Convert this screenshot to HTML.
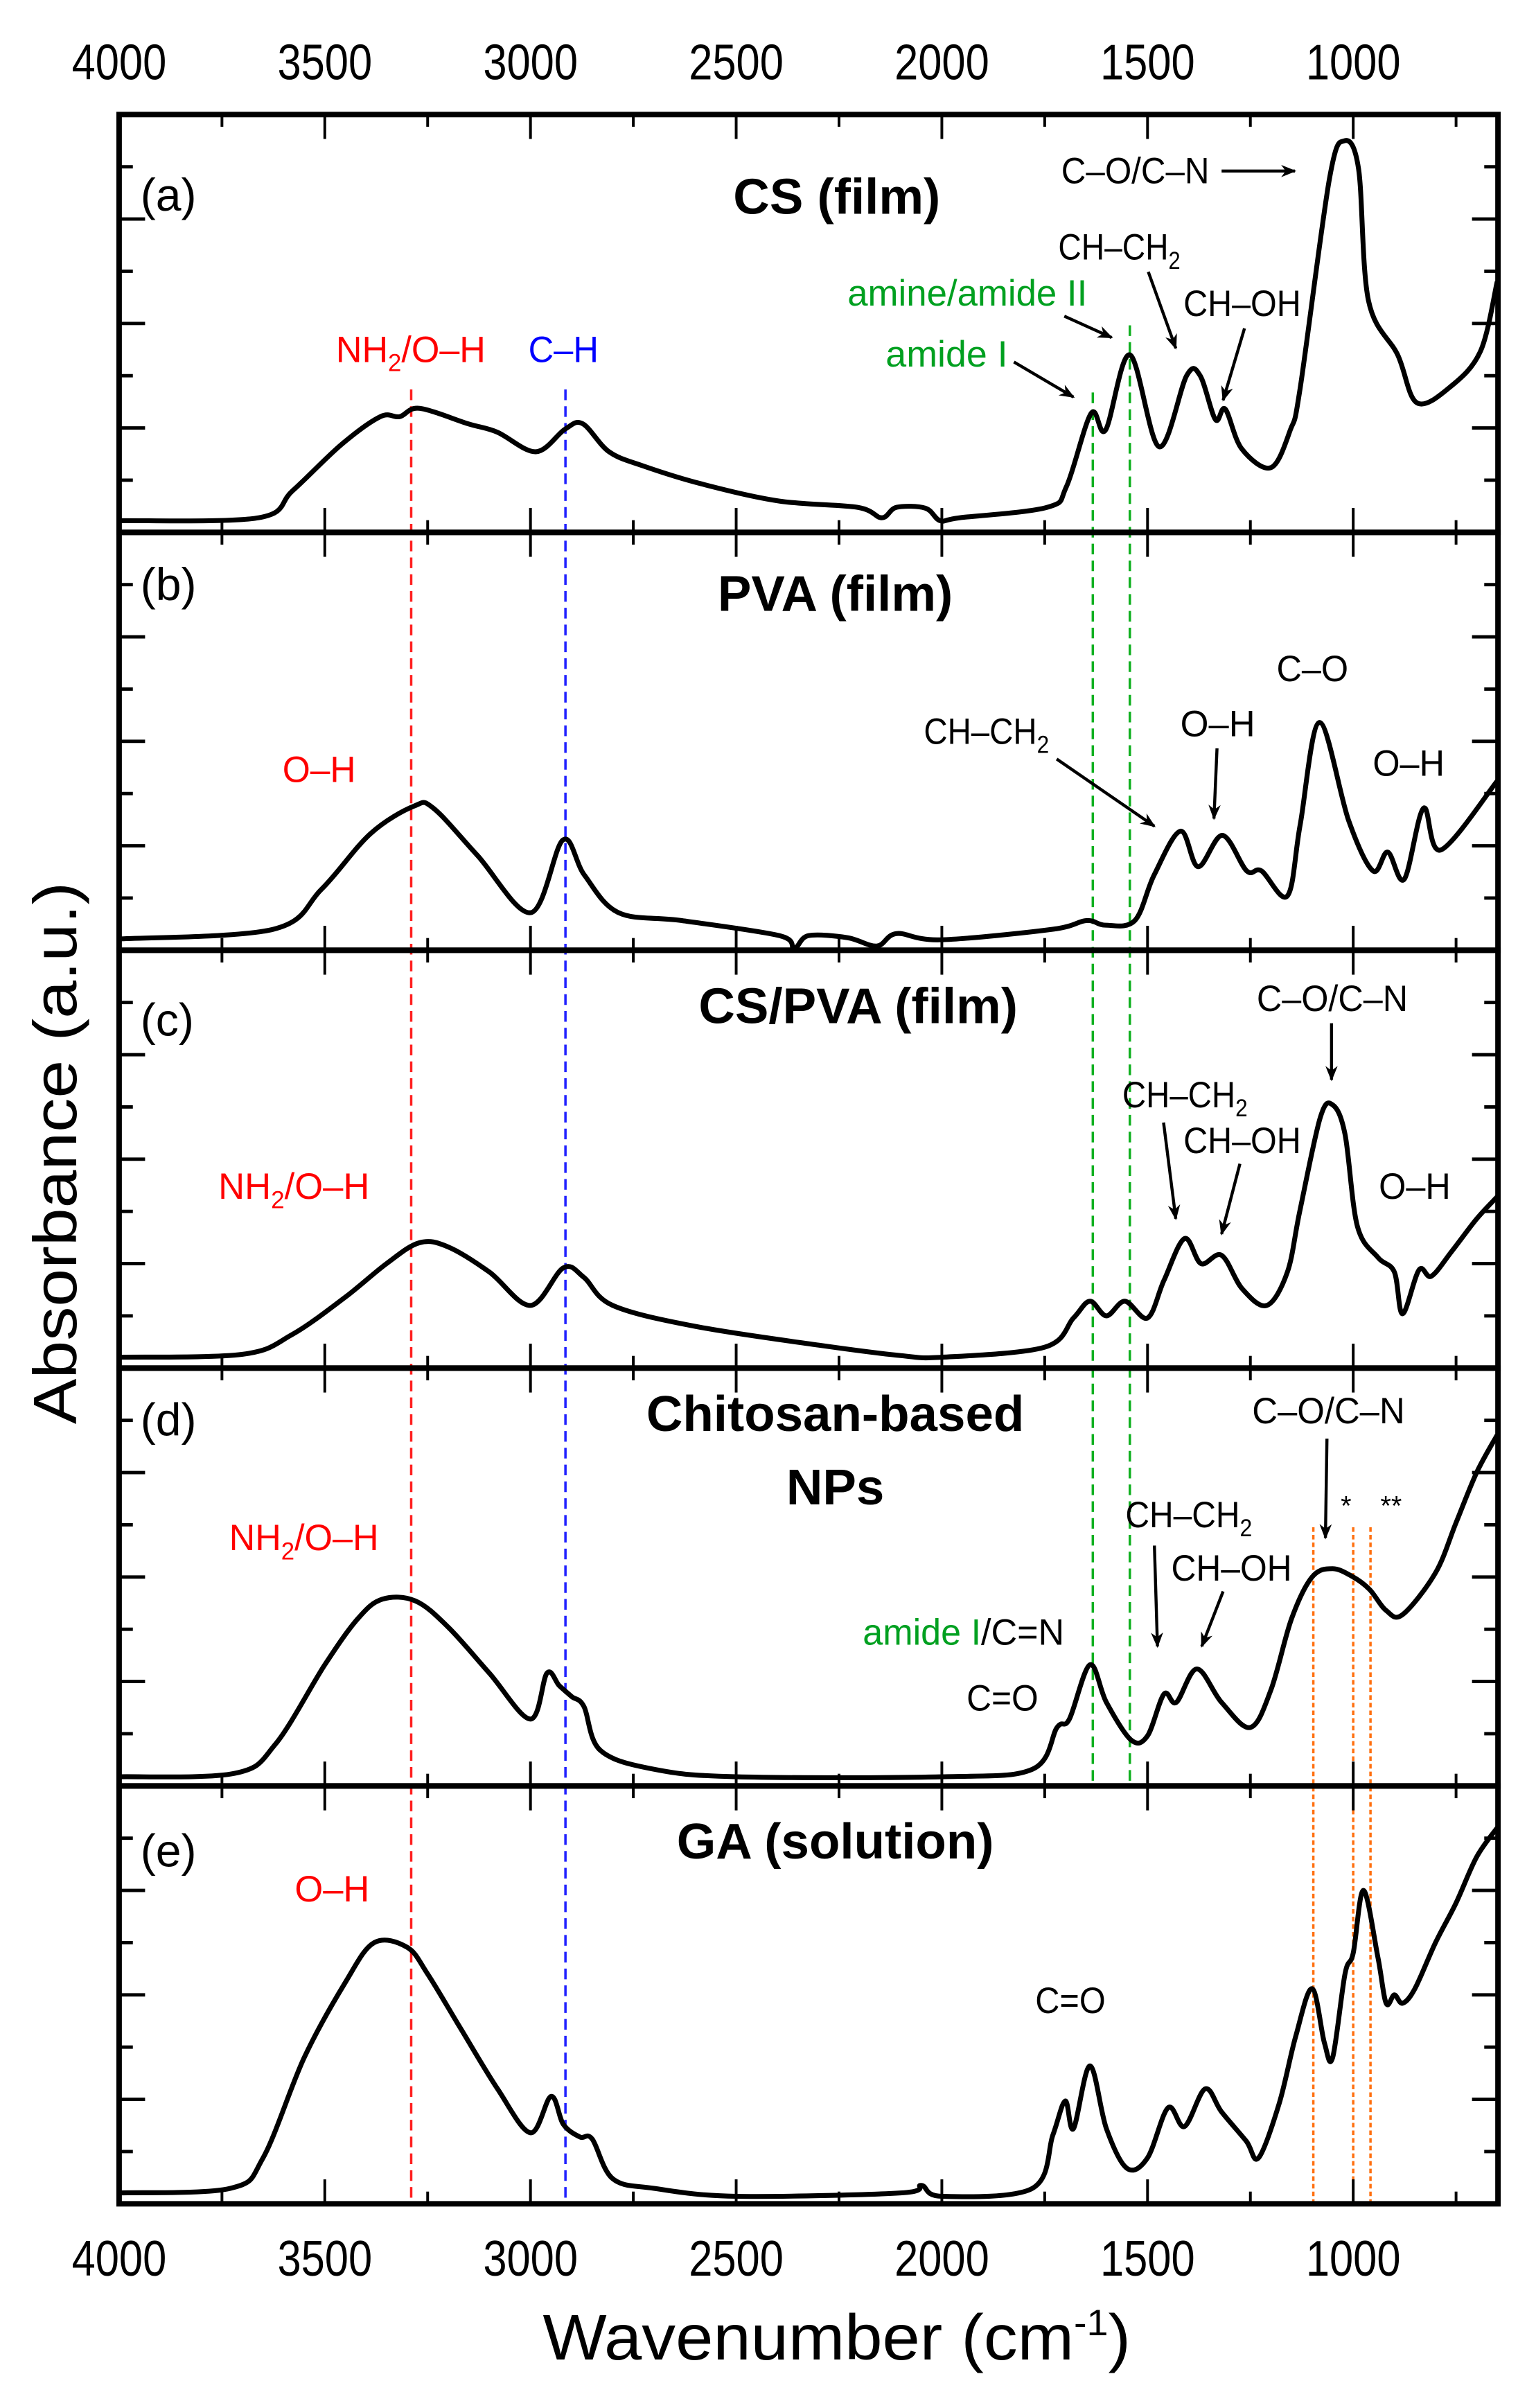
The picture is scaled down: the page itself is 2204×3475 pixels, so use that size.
<!DOCTYPE html>
<html><head><meta charset="utf-8"><style>
html,body{margin:0;padding:0;background:#fff;}
svg{display:block;}
text{font-family:"Liberation Sans",sans-serif;}
</style></head><body>
<svg id="chart" width="2204" height="3475" viewBox="0 0 1000 1576.7" xmlns="http://www.w3.org/2000/svg">
<defs>
<marker id="ah" viewBox="0 0 10 10" refX="9" refY="5" markerWidth="5" markerHeight="5" orient="auto" markerUnits="strokeWidth"><path d="M0,1 L10,5 L0,9 L3,5 Z" fill="#000"/></marker>
</defs>
<g id="guides"></g>
<g id="curves"></g>
<g id="axes"></g>
<g id="labels">
<text transform="translate(50,755) rotate(-90)" text-anchor="middle" font-size="40" textLength="355" lengthAdjust="spacingAndGlyphs">Absorbance (a.u.)</text>
<text x="548" y="1545" text-anchor="middle" font-size="42" textLength="385" lengthAdjust="spacingAndGlyphs">Wavenumber (cm<tspan dy="-16" font-size="24">-1</tspan><tspan dy="16">)</tspan></text>

<g font-size="30">
<text x="92" y="138">(a)</text>
<text x="548" y="140" text-anchor="middle" font-weight="bold" font-size="33">CS (film)</text>
</g>
<g font-size="30">
<text x="92" y="393">(b)</text>
<text x="547" y="400" text-anchor="middle" font-weight="bold" font-size="33">PVA (film)</text>
</g>
<g font-size="30">
<text x="92" y="678">(c)</text>
<text x="562" y="670" text-anchor="middle" font-weight="bold" font-size="33">CS/PVA (film)</text>
</g>
<g font-size="30">
<text x="92" y="940">(d)</text>
<text x="547" y="937" text-anchor="middle" font-weight="bold" font-size="33">Chitosan-based</text>
<text x="547" y="985" text-anchor="middle" font-weight="bold" font-size="33">NPs</text>
</g>
<g font-size="30">
<text x="92" y="1222">(e)</text>
<text x="547" y="1217" text-anchor="middle" font-weight="bold" font-size="33">GA (solution)</text>
</g>

<g font-size="24">
<text x="695" y="120" textLength="97" lengthAdjust="spacingAndGlyphs">C–O/C–N</text>
<text x="693" y="170" textLength="80" lengthAdjust="spacingAndGlyphs">CH–CH<tspan dy="6" font-size="16">2</tspan></text>
<text x="775" y="207" textLength="77" lengthAdjust="spacingAndGlyphs">CH–OH</text>
<text x="555" y="200" fill="#00a020" textLength="157" lengthAdjust="spacingAndGlyphs">amine/amide II</text>
<text x="580" y="240" fill="#00a020" textLength="80" lengthAdjust="spacingAndGlyphs">amide I</text>
<text x="220" y="237" fill="#ff0000" textLength="98" lengthAdjust="spacingAndGlyphs">NH<tspan dy="6" font-size="16">2</tspan><tspan dy="-6">/O–H</tspan></text>
<text x="346" y="237" fill="#0000ff" textLength="46" lengthAdjust="spacingAndGlyphs">C–H</text>

<text x="185" y="512" fill="#ff0000" textLength="48" lengthAdjust="spacingAndGlyphs">O–H</text>
<text x="605" y="487" textLength="82" lengthAdjust="spacingAndGlyphs">CH–CH<tspan dy="6" font-size="16">2</tspan></text>
<text x="773" y="482" textLength="49" lengthAdjust="spacingAndGlyphs">O–H</text>
<text x="836" y="446" textLength="47" lengthAdjust="spacingAndGlyphs">C–O</text>
<text x="899" y="508" textLength="47" lengthAdjust="spacingAndGlyphs">O–H</text>

<text x="823" y="662" textLength="99" lengthAdjust="spacingAndGlyphs">C–O/C–N</text>
<text x="735" y="725" textLength="82" lengthAdjust="spacingAndGlyphs">CH–CH<tspan dy="6" font-size="16">2</tspan></text>
<text x="775" y="755" textLength="77" lengthAdjust="spacingAndGlyphs">CH–OH</text>
<text x="143" y="785" fill="#ff0000" textLength="99" lengthAdjust="spacingAndGlyphs">NH<tspan dy="6" font-size="16">2</tspan><tspan dy="-6">/O–H</tspan></text>
<text x="903" y="785" textLength="47" lengthAdjust="spacingAndGlyphs">O–H</text>

<text x="820" y="932" textLength="100" lengthAdjust="spacingAndGlyphs">C–O/C–N</text>
<text x="878" y="992" font-size="18">*</text>
<text x="904" y="992" font-size="18">**</text>
<text x="737" y="1000" textLength="83" lengthAdjust="spacingAndGlyphs">CH–CH<tspan dy="6" font-size="16">2</tspan></text>
<text x="767" y="1035" textLength="79" lengthAdjust="spacingAndGlyphs">CH–OH</text>
<text x="150" y="1015" fill="#ff0000" textLength="98" lengthAdjust="spacingAndGlyphs">NH<tspan dy="6" font-size="16">2</tspan><tspan dy="-6">/O–H</tspan></text>
<text x="565" y="1077" textLength="132" lengthAdjust="spacingAndGlyphs"><tspan fill="#00a020">amide I</tspan>/C=N</text>
<text x="633" y="1120" textLength="47" lengthAdjust="spacingAndGlyphs">C=O</text>

<text x="193" y="1245" fill="#ff0000" textLength="49" lengthAdjust="spacingAndGlyphs">O–H</text>
<text x="678" y="1318" textLength="46" lengthAdjust="spacingAndGlyphs">C=O</text>
</g>
<g stroke="#000" stroke-width="2" marker-end="url(#ah)">
<line x1="800" y1="112" x2="848" y2="112"/>
<line x1="752" y1="178" x2="770" y2="228"/>
<line x1="815" y1="215" x2="801" y2="262"/>
<line x1="697" y1="207" x2="728" y2="221"/>
<line x1="664" y1="237" x2="703" y2="260"/>
<line x1="692" y1="497" x2="756" y2="541"/>
<line x1="797" y1="490" x2="795" y2="536"/>
<line x1="872" y1="670" x2="872" y2="707"/>
<line x1="762" y1="735" x2="770" y2="798"/>
<line x1="812" y1="762" x2="800" y2="808"/>
<line x1="869" y1="942" x2="868" y2="1007"/>
<line x1="756" y1="1012" x2="758" y2="1078"/>
<line x1="801" y1="1042" x2="787" y2="1078"/>
</g>
</g>
</svg>
<script>
// ---- data ----
const wnA = [4000,3661,3578,3460,3365,3318,3270,3152,3081,2987,2916,2873,2809,2726,2584,2395,2205,2146,2110,2040,2004,1957,1744,1697,1637,1602,1543,1472,1405,1372,1335,1311,1271,1200,1153,1129,1058,1022,987,963,892,845,762,690,650];
const absA = [0.028,0.035,0.10,0.21,0.277,0.277,0.297,0.26,0.24,0.193,0.247,0.26,0.193,0.159,0.116,0.075,0.06,0.035,0.06,0.058,0.028,0.035,0.06,0.11,0.285,0.245,0.425,0.205,0.375,0.375,0.27,0.295,0.2,0.155,0.245,0.345,0.845,0.937,0.87,0.555,0.425,0.31,0.35,0.435,0.6];
const wnB = [4000,3626,3508,3389,3283,3236,3129,2999,2921,2869,2786,2632,2395,2359,2324,2229,2158,2110,2004,1732,1649,1602,1531,1484,1420,1377,1318,1259,1223,1160,1129,1082,1011,952,916,876,829,787,650];
const absB = [0.027,0.05,0.146,0.279,0.345,0.34,0.227,0.09,0.264,0.18,0.09,0.071,0.035,0.005,0.035,0.03,0.01,0.04,0.025,0.05,0.071,0.06,0.071,0.18,0.285,0.2,0.275,0.19,0.19,0.13,0.3,0.545,0.31,0.19,0.235,0.17,0.34,0.24,0.405];
const wnC = [4000,3700,3580,3450,3350,3270,3200,3100,3000,2920,2870,2800,2600,2300,2100,2000,1750,1680,1640,1600,1555,1500,1460,1410,1370,1320,1270,1210,1160,1130,1080,1050,1020,990,940,900,880,840,810,760,700,650];
const absC = [0.026,0.033,0.08,0.17,0.25,0.30,0.29,0.23,0.15,0.24,0.217,0.15,0.1,0.055,0.03,0.026,0.05,0.12,0.16,0.125,0.16,0.12,0.21,0.31,0.25,0.27,0.19,0.15,0.23,0.375,0.6,0.63,0.56,0.34,0.265,0.23,0.13,0.235,0.22,0.28,0.357,0.41];
const wnD = [4000,3720,3620,3500,3420,3360,3280,3200,3100,3000,2960,2930,2900,2870,2830,2700,2500,2000,1780,1720,1690,1640,1600,1540,1500,1460,1430,1380,1320,1250,1200,1150,1100,1050,1000,960,920,880,800,750,700,650];
const absD = [0.022,0.03,0.1,0.29,0.4,0.447,0.443,0.38,0.27,0.16,0.27,0.24,0.214,0.19,0.085,0.04,0.022,0.022,0.04,0.14,0.16,0.29,0.2,0.11,0.12,0.22,0.2,0.28,0.2,0.14,0.23,0.4,0.5,0.52,0.5,0.47,0.42,0.41,0.51,0.63,0.75,0.84];
const wnE = [4000,3730,3650,3550,3450,3380,3300,3250,3170,3080,3000,2950,2920,2880,2850,2800,2700,2500,2100,2050,2000,1780,1730,1700,1680,1640,1600,1550,1500,1450,1410,1360,1320,1260,1230,1180,1140,1100,1070,1050,1020,1000,975,940,920,900,880,850,800,750,700,650];
const absE = [0.026,0.037,0.11,0.35,0.53,0.625,0.614,0.55,0.42,0.275,0.17,0.257,0.19,0.16,0.155,0.06,0.037,0.018,0.026,0.044,0.018,0.037,0.165,0.246,0.18,0.33,0.18,0.085,0.11,0.23,0.185,0.275,0.22,0.15,0.11,0.24,0.40,0.515,0.385,0.35,0.55,0.6,0.75,0.59,0.48,0.5,0.48,0.515,0.625,0.72,0.83,0.9];
const xTickLabels = ["4000","3500","3000","2500","2000","1500","1000"];
const xTickValues = [4000,3500,3000,2500,2000,1500,1000];
const guideRed = 3290, guideBlue = 2915, guideGreen = [1633,1543], guideOrange = [1097,1000,958];

// ---- layout ----
const NS = "http://www.w3.org/2000/svg";
const L = 78, R = 981, T = 75, PH = 273.6;
const WMAX = 4000, WMIN = 4000 - (R - L) / 134.7 * 500;
const xs = w => L + (WMAX - w) / (WMAX - WMIN) * (R - L);
const pTop = i => T + i * PH;
const ys = (i, f) => pTop(i) + PH - f * PH;
function mk(tag, attrs, parent) {
  const el = document.createElementNS(NS, tag);
  for (const k in attrs) el.setAttribute(k, attrs[k]);
  parent.appendChild(el);
  return el;
}
function smoothPath(p) {
  let d = 'M' + p[0][0].toFixed(2) + ',' + p[0][1].toFixed(2);
  for (let i = 0; i < p.length - 1; i++) {
    const p0 = p[Math.max(0, i - 1)], p1 = p[i], p2 = p[i + 1], p3 = p[Math.min(p.length - 1, i + 2)];
    const c1x = p1[0] + (p2[0] - p0[0]) / 6, c1y = p1[1] + (p2[1] - p0[1]) / 6;
    const c2x = p2[0] - (p3[0] - p1[0]) / 6, c2y = p2[1] - (p3[1] - p1[1]) / 6;
    d += ' C' + c1x.toFixed(2) + ',' + c1y.toFixed(2) + ' ' + c2x.toFixed(2) + ',' + c2y.toFixed(2) + ' ' + p2[0].toFixed(2) + ',' + p2[1].toFixed(2);
  }
  return d;
}
const curves = document.getElementById('curves');
const axes = document.getElementById('axes');
const guides = document.getElementById('guides');
const series = [[wnA,absA,'spectrum-cs-film'],[wnB,absB,'spectrum-pva-film'],[wnC,absC,'spectrum-cs-pva-film'],[wnD,absD,'spectrum-chitosan-nps'],[wnE,absE,'spectrum-ga-solution']];
series.forEach((s, i) => {
  const pts = s[0].map((w, j) => [xs(w), ys(i, s[1][j])]);
  const pl = mk('path', {d: smoothPath(pts), fill: 'none', stroke: '#000', 'stroke-width': 3.2, 'stroke-linejoin': 'round'}, curves);
  
  
});
function vline(w, y1, y2, color, dash, name) {
  const ln = mk('line', {x1: xs(w), x2: xs(w), y1: y1, y2: y2, stroke: color, 'stroke-width': 1.6, 'stroke-dasharray': dash}, guides);
  
  
}
const bottom = pTop(5);
vline(guideRed, 255, bottom, '#ff2020', '7,4', 'guide-nh2-oh');
vline(guideBlue, 255, bottom, '#2020ff', '7,4', 'guide-c-h');
vline(guideGreen[0], 257, pTop(4), '#10b020', '7,4', 'guide-amide-i');
vline(guideGreen[1], 213, pTop(4), '#10b020', '7,4', 'guide-amide-ii');
guideOrange.forEach((w, k) => vline(w, 1000, bottom, '#ff7010', '3,2', 'guide-orange-' + k));
for (let i = 0; i < 5; i++) {
  const fr = mk('rect', {x: L, y: pTop(i), width: R - L, height: PH, fill: 'none', stroke: '#000', 'stroke-width': 3.6}, axes);
  
  
  for (let w = 3750; w > WMIN; w -= 250) {
    const len = (w % 500 === 0) ? 16 : 8;
    mk('line', {x1: xs(w), x2: xs(w), y1: pTop(i), y2: pTop(i) + len, stroke: '#000', 'stroke-width': 1.8}, axes);
    mk('line', {x1: xs(w), x2: xs(w), y1: pTop(i) + PH, y2: pTop(i) + PH - len, stroke: '#000', 'stroke-width': 1.8}, axes);
  }
  for (let k = 1; k <= 7; k++) {
    const y = pTop(i) + PH - k * PH / 8;
    const len = (k % 2 === 0) ? 17 : 9;
    mk('line', {x1: L, x2: L + len, y1: y, y2: y, stroke: '#000', 'stroke-width': 2.2}, axes);
    mk('line', {x1: R, x2: R - len, y1: y, y2: y, stroke: '#000', 'stroke-width': 2.2}, axes);
  }
}
xTickLabels.forEach((lab, k) => {
  [40, 1478].forEach((yy, m) => {
    const t = mk('text', {x: xs(xTickValues[k]), y: yy + 12, 'text-anchor': 'middle', 'font-size': 33, textLength: 62, lengthAdjust: 'spacingAndGlyphs'}, axes);
    
    
    t.textContent = lab;
  });
});
</script>
</body></html>
